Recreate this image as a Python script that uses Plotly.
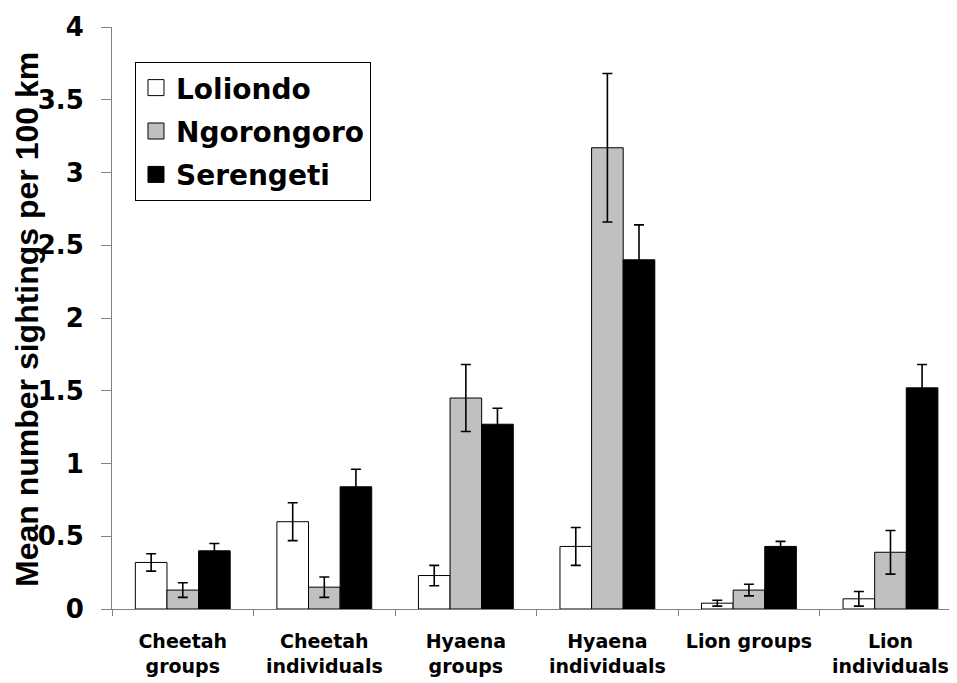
import plotly.graph_objects as go

categories = ["Cheetah<br>groups", "Cheetah<br>individuals", "Hyaena<br>groups",
              "Hyaena<br>individuals", "Lion groups", "Lion<br>individuals"]
loliondo = [0.32, 0.60, 0.23, 0.43, 0.04, 0.07]
loliondo_err = [0.06, 0.13, 0.07, 0.13, 0.02, 0.05]
ngorongoro = [0.13, 0.15, 1.45, 3.17, 0.13, 0.39]
ngorongoro_err = [0.05, 0.07, 0.23, 0.51, 0.04, 0.15]
serengeti = [0.40, 0.84, 1.27, 2.40, 0.43, 1.52]
serengeti_err = [0.05, 0.12, 0.11, 0.24, 0.035, 0.16]
series_names = ["Loliondo", "Ngorongoro", "Serengeti"]
y_ticks = [0, 0.5, 1, 1.5, 2, 2.5, 3, 3.5, 4]
y_tick_text = ["0", "0.5", "1", "1.5", "2", "2.5", "3", "3.5", "4"]
y_title = "Mean number sightings per 100 km"

fills = ["#FFFFFF", "#C0C0C0", "#000000"]
values = [loliondo, ngorongoro, serengeti]
errors = [loliondo_err, ngorongoro_err, serengeti_err]

fig = go.Figure()
for name, vals, errs, col in zip(series_names, values, errors, fills):
    fig.add_trace(go.Bar(
        x=categories, y=vals, name=name, showlegend=False,
        marker=dict(color=col, line=dict(color="black", width=1)),
        error_y=dict(type="data", array=errs, visible=True, color="black",
                     thickness=1.6, width=5),
    ))
# legend proxies (larger square swatches)
for name, col in zip(series_names, fills):
    fig.add_trace(go.Scatter(
        x=[None], y=[None], mode="markers", name=name, legendgroup=name,
        marker=dict(symbol="square", size=16, color=col,
                    line=dict(color="black", width=1)),
    ))

# page body has an 8px margin: the figure starts at (8, 8)
fig.update_layout(
    width=949, height=675,
    margin=dict(l=104, r=0, t=19, b=74),
    paper_bgcolor="white", plot_bgcolor="white",
    barmode="group", bargap=0.33, bargroupgap=0,
    font=dict(family="DejaVu Sans", color="black"),
    legend=dict(
        x=0.0272, y=0.94, xanchor="left", yanchor="top",
        bgcolor="white", bordercolor="black", borderwidth=1,
        font=dict(family="DejaVu Sans", size=28, weight="bold", color="black"),
        tracegroupgap=4,
    ),
    xaxis=dict(
        range=[-0.5, 5.47], tickson="boundaries", ticks="outside", ticklen=6,
        tickcolor="#808080", showline=True, linecolor="#808080", linewidth=1,
        showgrid=False, zeroline=False,
        tickfont=dict(family="DejaVu Sans", size=19, weight="bold", color="black"),
        ticklabelstandoff=15,
    ),
    yaxis=dict(
        range=[0, 4], tickvals=y_ticks, ticktext=y_tick_text, ticks="outside",
        ticklen=10, tickcolor="#808080", showline=True, linecolor="#808080",
        linewidth=1, showgrid=False, zeroline=False,
        tickfont=dict(family="DejaVu Sans", size=26, weight="bold", color="black"),
        ticklabelstandoff=12,
    ),
    annotations=[dict(
        text=y_title, textangle=-90, xref="paper", yref="paper",
        x=(27 - 112) / 845, y=(609 - 320) / 582, xanchor="center", yanchor="middle",
        showarrow=False,
        font=dict(family="Liberation Sans", size=32, weight="bold", color="black"),
    )],
)

fig.write_html("out.html")
